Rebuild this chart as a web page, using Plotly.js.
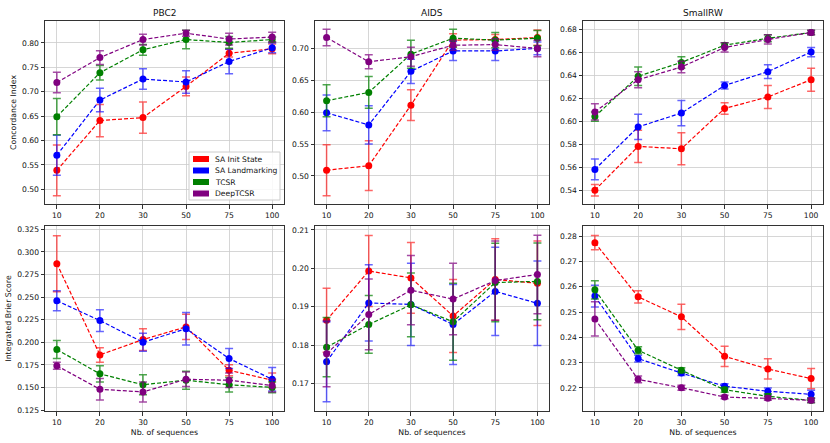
<!DOCTYPE html>
<html>
<head>
<meta charset="utf-8">
<script src="https://cdn.plot.ly/plotly-3.0.1.min.js"></script>
<style>
    html, body { margin: 0; padding: 0; background: #ffffff; }
    #chart { width: 830px; height: 443px; }
</style>
</head>
<body>
<div id="chart"></div>
<script>
// categories and series names
const sequenceCounts = ["10", "20", "30", "50", "75", "100"];
const methodNames = ["SA Init State", "SA Landmarking", "TCSR", "DeepTCSR"];
const methodColours = ["#ff0000", "#0000ff", "#008000", "#800080"];
const errorColours = ["rgba(255,0,0,0.6)", "rgba(0,0,255,0.6)", "rgba(0,128,0,0.7)", "rgba(128,0,128,0.7)"];

// concordance index, rows in method order
const pbc2CindexMean = [
    [0.539, 0.641, 0.647, 0.711, 0.779, 0.788],
    [0.570, 0.683, 0.726, 0.720, 0.762, 0.790],
    [0.649, 0.739, 0.786, 0.807, 0.801, 0.807],
    [0.719, 0.770, 0.807, 0.820, 0.808, 0.812]
];
const pbc2CindexErr = [
    [0.052, 0.033, 0.032, 0.019, 0.008, 0.010],
    [0.041, 0.024, 0.021, 0.023, 0.025, 0.010],
    [0.037, 0.015, 0.011, 0.019, 0.012, 0.005],
    [0.021, 0.014, 0.011, 0.006, 0.012, 0.010]
];
const aidsCindexMean = [
    [0.509, 0.516, 0.611, 0.713, 0.714, 0.717],
    [0.599, 0.580, 0.664, 0.696, 0.696, 0.700],
    [0.618, 0.631, 0.691, 0.716, 0.713, 0.716],
    [0.717, 0.679, 0.687, 0.705, 0.706, 0.700]
];
const aidsCindexErr = [
    [0.040, 0.039, 0.024, 0.010, 0.008, 0.012],
    [0.028, 0.030, 0.019, 0.015, 0.015, 0.010],
    [0.025, 0.025, 0.022, 0.014, 0.012, 0.012],
    [0.013, 0.011, 0.015, 0.008, 0.009, 0.013]
];
const smallrwCindexMean = [
    [0.540, 0.578, 0.576, 0.611, 0.621, 0.636],
    [0.558, 0.595, 0.607, 0.631, 0.643, 0.660],
    [0.604, 0.639, 0.651, 0.666, 0.672, 0.677],
    [0.608, 0.636, 0.647, 0.664, 0.671, 0.677]
];
const smallrwCindexErr = [
    [0.005, 0.014, 0.014, 0.005, 0.010, 0.010],
    [0.009, 0.011, 0.011, 0.003, 0.006, 0.004],
    [0.004, 0.008, 0.005, 0.002, 0.003, 0.002],
    [0.007, 0.007, 0.005, 0.004, 0.004, 0.002]
];

// integrated brier score, rows in method order
const pbc2BrierMean = [
    [0.287, 0.186, 0.203, 0.217, 0.169, 0.158],
    [0.246, 0.224, 0.200, 0.215, 0.182, 0.159],
    [0.192, 0.165, 0.153, 0.158, 0.153, 0.150],
    [0.174, 0.148, 0.145, 0.159, 0.158, 0.152]
];
const pbc2BrierErr = [
    [0.031, 0.008, 0.012, 0.014, 0.006, 0.008],
    [0.011, 0.012, 0.010, 0.018, 0.011, 0.013],
    [0.010, 0.009, 0.011, 0.010, 0.008, 0.006],
    [0.004, 0.012, 0.011, 0.008, 0.008, 0.007]
];
const aidsBrierMean = [
    [0.1865, 0.1993, 0.1975, 0.1876, 0.1971, 0.1961],
    [0.1757, 0.1910, 0.1906, 0.1854, 0.1940, 0.1909],
    [0.1795, 0.1854, 0.1905, 0.1861, 0.1963, 0.1966],
    [0.1778, 0.1880, 0.1943, 0.1920, 0.1968, 0.1984]
];
const aidsBrierErr = [
    [0.0083, 0.0092, 0.0092, 0.0095, 0.0106, 0.0110],
    [0.0104, 0.0099, 0.0107, 0.0104, 0.0115, 0.0110],
    [0.0077, 0.0075, 0.0083, 0.0100, 0.0102, 0.0100],
    [0.0086, 0.0092, 0.0090, 0.0093, 0.0103, 0.0102]
];
const smallrwBrierMean = [
    [0.2774, 0.2560, 0.2481, 0.2325, 0.2275, 0.2237],
    [0.2563, 0.2316, 0.2259, 0.2207, 0.2187, 0.2175],
    [0.2588, 0.2349, 0.2270, 0.2193, 0.2167, 0.2151],
    [0.2473, 0.2234, 0.2201, 0.2164, 0.2159, 0.2151]
];
const smallrwBrierErr = [
    [0.0028, 0.0024, 0.0050, 0.0040, 0.0040, 0.0040],
    [0.0043, 0.0013, 0.0010, 0.0010, 0.0013, 0.0016],
    [0.0036, 0.0014, 0.0010, 0.0010, 0.0010, 0.0009],
    [0.0068, 0.0013, 0.0010, 0.0007, 0.0008, 0.0008]
];

const fontFamily = '"DejaVu Sans", sans-serif';
const W = 830;
const H = 443;
const TICK_SIZE = 7.6;
const LABEL_SIZE = 7.8;
const TEXT_COLOUR = "#111111";

function panelTraces(means, errs, axisSuffix) {
    return means.map((values, i) => ({
        type: "scatter",
        mode: "lines+markers",
        x: sequenceCounts,
        y: values,
        xaxis: "x" + axisSuffix,
        yaxis: "y" + axisSuffix,
        showlegend: false,
        hoverinfo: "skip",
        line: { color: methodColours[i], width: 1.2, dash: "4px,2px" },
        marker: { color: methodColours[i], size: 7 },
        error_y: {
            type: "data",
            array: errs[i],
            visible: true,
            color: errorColours[i],
            thickness: 1.5,
            width: 4
        }
    }));
}

function xAxis(domain, anchor, showTitle) {
    return {
        domain: domain,
        anchor: anchor,
        type: "category",
        range: [-0.275, 5.275],
        showgrid: true,
        gridcolor: "#cccccc",
        gridwidth: 0.8,
        showline: true,
        linecolor: "#333333",
        linewidth: 1,
        mirror: true,
        ticks: "outside",
        ticklen: 3.5,
        tickcolor: "#333333",
        tickfont: { size: TICK_SIZE, color: TEXT_COLOUR },
        title: showTitle ? { text: "Nb. of sequences", font: { size: LABEL_SIZE, color: TEXT_COLOUR }, standoff: 3 } : { text: "" },
        zeroline: false
    };
}

function yAxis(domain, anchor, range, tickvals, fmt, titleText) {
    return {
        domain: domain,
        anchor: anchor,
        range: range,
        tickvals: tickvals,
        tickformat: fmt,
        showgrid: true,
        gridcolor: "#cccccc",
        gridwidth: 0.8,
        showline: true,
        linecolor: "#333333",
        linewidth: 1,
        mirror: true,
        ticks: "outside",
        ticklen: 3.5,
        tickcolor: "#333333",
        tickfont: { size: TICK_SIZE, color: TEXT_COLOUR },
        title: titleText ? { text: titleText, font: { size: LABEL_SIZE, color: TEXT_COLOUR }, standoff: 4 } : { text: "" },
        zeroline: false
    };
}

function ticksBetween(start, stop, step) {
    const ticks = [];
    for (let v = start; v <= stop + step / 10; v += step) {
        ticks.push(Math.round(v * 1000) / 1000);
    }
    return ticks;
}

// matplotlib style legend with wide patches, drawn as shapes + text
function legendParts() {
    const box = { x0: 189, x1: 280, y0: 152, y1: 200 };
    const shapes = [{
        type: "rect",
        xref: "paper", yref: "paper",
        x0: box.x0 / W, x1: box.x1 / W,
        y0: 1 - box.y1 / H, y1: 1 - box.y0 / H,
        fillcolor: "rgba(255,255,255,0.85)",
        line: { color: "#cccccc", width: 1 }
    }];
    const annotations = [];
    methodNames.forEach((name, i) => {
        const cy = 159 + i * 11.5;
        shapes.push({
            type: "rect",
            xref: "paper", yref: "paper",
            x0: 193 / W, x1: 209 / W,
            y0: 1 - (cy + 3) / H, y1: 1 - (cy - 3) / H,
            fillcolor: methodColours[i],
            line: { width: 0 }
        });
        annotations.push({
            text: name,
            xref: "paper", yref: "paper",
            x: 213 / W, y: 1 - cy / H,
            xanchor: "left", yanchor: "middle",
            showarrow: false,
            font: { size: TICK_SIZE, color: TEXT_COLOUR }
        });
    });
    return { shapes, annotations };
}

const colDomains = [[45 / W, 284 / W], [315 / W, 549 / W], [583 / W, 823 / W]];
const topDomain = [1 - 204 / H, 1 - 21 / H];
const bottomDomain = [1 - 411 / H, 1 - 226 / H];

const data = [
    ...panelTraces(pbc2CindexMean, pbc2CindexErr, ""),
    ...panelTraces(aidsCindexMean, aidsCindexErr, "2"),
    ...panelTraces(smallrwCindexMean, smallrwCindexErr, "3"),
    ...panelTraces(pbc2BrierMean, pbc2BrierErr, "4"),
    ...panelTraces(aidsBrierMean, aidsBrierErr, "5"),
    ...panelTraces(smallrwBrierMean, smallrwBrierErr, "6")
];

const panelTitles = ["PBC2", "AIDS", "SmallRW"];
const legend = legendParts();

const titleAnnotations = panelTitles.map((text, i) => ({
    text: text,
    xref: "paper",
    yref: "paper",
    x: (colDomains[i][0] + colDomains[i][1]) / 2,
    y: 1 - 13 / H,
    xanchor: "center",
    yanchor: "middle",
    showarrow: false,
    font: { size: 9, color: TEXT_COLOUR }
}));

const layout = {
    width: W,
    height: H,
    margin: { l: 0, r: 0, t: 0, b: 0 },
    paper_bgcolor: "#ffffff",
    plot_bgcolor: "#ffffff",
    font: { family: fontFamily, color: TEXT_COLOUR },
    showlegend: false,
    xaxis: xAxis(colDomains[0], "y", false),
    yaxis: yAxis(topDomain, "x", [0.470, 0.845], ticksBetween(0.50, 0.80, 0.05), ".2f", "Concordance Index"),
    xaxis2: xAxis(colDomains[1], "y2", false),
    yaxis2: yAxis(topDomain, "x2", [0.456, 0.743], ticksBetween(0.50, 0.70, 0.05), ".2f", ""),
    xaxis3: xAxis(colDomains[2], "y3", false),
    yaxis3: yAxis(topDomain, "x3", [0.528, 0.687], ticksBetween(0.54, 0.68, 0.02), ".2f", ""),
    xaxis4: xAxis(colDomains[0], "y4", true),
    yaxis4: yAxis(bottomDomain, "x4", [0.1239, 0.3287], ticksBetween(0.125, 0.325, 0.025), ".3f", "Integrated Brier Score"),
    xaxis5: xAxis(colDomains[1], "y5", true),
    yaxis5: yAxis(bottomDomain, "x5", [0.1629, 0.2110], ticksBetween(0.17, 0.21, 0.01), ".2f", ""),
    xaxis6: xAxis(colDomains[2], "y6", true),
    yaxis6: yAxis(bottomDomain, "x6", [0.2109, 0.2840], ticksBetween(0.22, 0.28, 0.01), ".2f", ""),
    shapes: legend.shapes,
    annotations: [...titleAnnotations, ...legend.annotations]
};

Plotly.newPlot("chart", data, layout, { displayModeBar: false, staticPlot: true });
</script>
</body>
</html>
